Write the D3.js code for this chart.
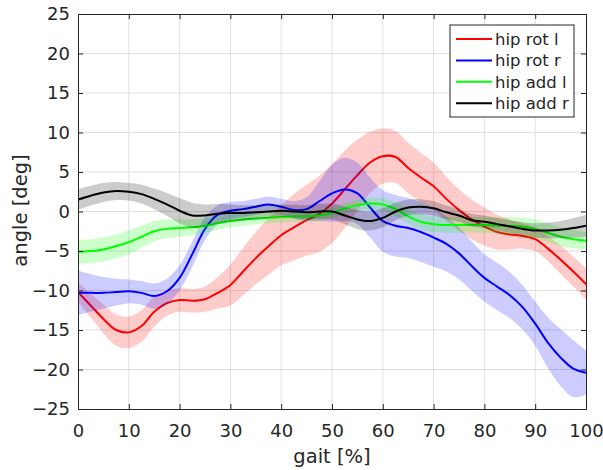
<!DOCTYPE html>
<html>
<head>
<meta charset="utf-8">
<script src="https://cdn.jsdelivr.net/npm/d3@7"></script>
<style>
  body { margin: 0; background: #fff; }
  text { font-family: "DejaVu Sans", sans-serif; fill: #262626; }
</style>
</head>
<body>
<div id="chart"></div>
<script>
// gait cycle samples [%]
var gait = [0, 2.5, 5, 7.5, 10, 12.5, 15, 17.5, 20, 22.5, 25, 27.5, 30, 32.5, 35, 37.5, 40,
  42.5, 45, 47.5, 50, 52.5, 55, 57.5, 60, 62.5, 65, 67.5, 70, 72.5, 75, 77.5, 80, 82.5, 85,
  87.5, 90, 92.5, 95, 97.5, 100];

// hip rot l (mean / sd)
var rotL = [-10.2, -11.9, -13.6, -15.0, -15.3, -14.5, -12.7, -11.6, -11.2, -11.3, -11.1, -10.3,
  -9.3, -7.6, -5.9, -4.4, -3.0, -2.0, -1.1, -0.3, 1.0, 2.8, 4.6, 6.2, 7.0, 6.9, 5.5, 4.3, 3.2,
  1.6, 0.2, -1.0, -1.9, -2.6, -2.9, -3.1, -3.5, -4.7, -6.1, -7.6, -9.2];
var rotLsd = [1.2, 1.5, 1.8, 2.0, 2.0, 2.0, 1.9, 1.6, 1.5, 1.5, 1.6, 2.0, 2.6, 3.0, 3.3, 3.6, 3.8,
  4.2, 4.5, 4.8, 5.0, 4.9, 4.5, 3.9, 3.5, 3.3, 3.2, 3.1, 3.0, 2.8, 2.6, 2.5, 2.4, 2.2, 1.9, 1.6,
  1.5, 1.6, 1.8, 1.9, 2.0];

// hip rot r
var rotR = [-10.3, -10.3, -10.3, -10.2, -10.1, -10.3, -10.7, -10.1, -8.4, -5.4, -2.2, -0.4, 0.1,
  0.3, 0.6, 0.9, 0.6, 0.2, 0.3, 1.3, 2.3, 2.8, 2.3, 0.5, -1.2, -1.8, -2.1, -2.6, -3.3, -4.1, -5.3,
  -6.9, -8.4, -9.5, -10.6, -12.1, -14.2, -16.6, -18.5, -19.9, -20.4];
var rotRsd = [2.8, 2.4, 2.0, 1.7, 1.5, 1.5, 1.6, 1.6, 1.6, 1.6, 1.4, 1.2, 1.1, 1.0, 1.0, 1.0, 1.0,
  1.1, 1.5, 2.5, 3.6, 4.0, 3.9, 3.8, 3.9, 3.9, 3.8, 3.8, 3.7, 3.5, 3.3, 3.1, 3.0, 3.0, 2.9, 2.8,
  2.8, 3.2, 3.6, 3.6, 2.8];

// hip add l
var addL = [-5.1, -5.0, -4.8, -4.4, -3.9, -3.2, -2.5, -2.2, -2.1, -2.0, -1.8, -1.5, -1.2, -1.0,
  -0.9, -0.8, -0.7, -0.6, -0.6, -0.5, -0.2, 0.4, 0.8, 1.0, 0.9, 0.3, -0.6, -1.3, -1.6, -1.7, -1.7,
  -1.7, -1.7, -1.8, -1.8, -1.9, -2.2, -2.7, -3.2, -3.5, -3.7];
var addLsd = [1.5, 1.5, 1.5, 1.5, 1.5, 1.4, 1.3, 1.2, 1.1, 1.0, 0.9, 0.8, 0.8, 0.8, 0.7, 0.7, 0.7,
  0.7, 0.7, 0.7, 0.7, 0.7, 0.7, 0.75, 0.8, 0.85, 0.9, 0.95, 1.0, 1.0, 1.0, 1.0, 1.0, 1.0, 1.1, 1.1,
  1.2, 1.2, 1.2, 1.15, 1.1];

// hip add r
var addR = [1.5, 2.0, 2.4, 2.6, 2.5, 2.2, 1.6, 0.9, 0.1, -0.5, -0.5, -0.3, -0.2, -0.2, -0.1, 0.0,
  0.1, 0.0, -0.1, 0.0, 0.0, -0.5, -1.0, -1.2, -0.8, 0.0, 0.5, 0.6, 0.4, -0.1, -0.5, -1.1, -1.3,
  -1.6, -1.9, -2.2, -2.4, -2.4, -2.3, -2.1, -1.8];
var addRsd = [1.3, 1.25, 1.2, 1.15, 1.1, 1.2, 1.3, 1.45, 1.6, 1.6, 1.4, 1.25, 1.1, 1.0, 0.9, 0.85,
  0.8, 0.85, 0.9, 0.95, 1.0, 1.1, 1.2, 1.2, 1.2, 1.1, 1.0, 0.95, 0.9, 0.85, 0.8, 0.8, 0.8, 0.8,
  0.8, 0.85, 0.9, 1.0, 1.1, 1.25, 1.4];

var names = ["hip rot l", "hip rot r", "hip add l", "hip add r"];
var colors = ["#ff0000", "#0000ff", "#00ff00", "#000000"];
var xTicks = [0, 10, 20, 30, 40, 50, 60, 70, 80, 90, 100];
var yTicks = [-25, -20, -15, -10, -5, 0, 5, 10, 15, 20, 25];

var series = [
  { name: names[0], color: colors[0], mean: rotL, sd: rotLsd },
  { name: names[1], color: colors[1], mean: rotR, sd: rotRsd },
  { name: names[2], color: colors[2], mean: addL, sd: addLsd },
  { name: names[3], color: colors[3], mean: addR, sd: addRsd }
];

var margin = { top: 14, right: 17, bottom: 61, left: 78 };
var width = 603 - margin.left - margin.right;
var height = 470 - margin.top - margin.bottom;

var svg = d3.select("#chart")
    .append("svg")
    .attr("width", 603)
    .attr("height", 470)
    .append("g")
    .attr("transform", "translate(" + margin.left + "," + margin.top + ")");

var x = d3.scaleLinear().domain([0, 100]).range([0, width]);
var y = d3.scaleLinear().domain([-25, 25]).range([height, 0]);

// grid
svg.append("g")
    .selectAll("line")
    .data(xTicks.slice(1, -1))
    .enter().append("line")
    .attr("x1", d => x(d)).attr("x2", d => x(d))
    .attr("y1", 0).attr("y2", height)
    .attr("stroke", "#dfdfdf").attr("stroke-width", 1);
svg.append("g")
    .selectAll("line")
    .data(yTicks.slice(1, -1))
    .enter().append("line")
    .attr("x1", 0).attr("x2", width)
    .attr("y1", d => y(d)).attr("y2", d => y(d))
    .attr("stroke", "#dfdfdf").attr("stroke-width", 1);

svg.append("clipPath").attr("id", "clip")
    .append("rect").attr("width", width).attr("height", height);

var plot = svg.append("g").attr("clip-path", "url(#clip)");

var area = d3.area()
    .x((d, i) => x(gait[i]))
    .curve(d3.curveCatmullRom);
var line = d3.line()
    .x((d, i) => x(gait[i]))
    .curve(d3.curveCatmullRom);

// band then mean line, per series
series.forEach(s => {
    plot.append("path")
        .attr("d", area.y0((d, i) => y(s.mean[i] - s.sd[i])).y1((d, i) => y(s.mean[i] + s.sd[i]))(s.mean))
        .attr("fill", s.color)
        .attr("fill-opacity", 0.2);
    plot.append("path")
        .attr("d", line.y(d => y(d))(s.mean))
        .attr("fill", "none")
        .attr("stroke", s.color)
        .attr("stroke-width", 2);
});

// axes, ticks inside on all four sides
var fmt = d3.format("d");
var xAxis = svg.append("g")
    .attr("transform", "translate(0," + height + ")")
    .call(d3.axisBottom(x).tickValues(xTicks).tickSizeInner(-5).tickSizeOuter(0).tickPadding(15).tickFormat(fmt));
var xTop = svg.append("g")
    .call(d3.axisTop(x).tickValues(xTicks).tickSizeInner(-5).tickSizeOuter(0).tickFormat(""));
var yAxis = svg.append("g")
    .call(d3.axisLeft(y).tickValues(yTicks).tickSizeInner(-5).tickSizeOuter(0).tickPadding(8).tickFormat(fmt));
var yRight = svg.append("g")
    .attr("transform", "translate(" + width + ",0)")
    .call(d3.axisRight(y).tickValues(yTicks).tickSizeInner(-5).tickSizeOuter(0).tickFormat(""));

[xAxis, xTop, yAxis, yRight].forEach(a => {
    a.select(".domain").attr("stroke", "#262626");
    a.selectAll(".tick line").attr("stroke", "#262626");
    a.selectAll("text").style("font-size", "18px").attr("fill", "#262626");
});

// labels
svg.append("text")
    .attr("text-anchor", "middle")
    .attr("x", width / 2)
    .attr("y", height + 54)
    .style("font-size", "19.5px")
    .text("gait [%]");

svg.append("text")
    .attr("text-anchor", "middle")
    .attr("transform", "rotate(-90)")
    .attr("x", -height / 2 + 1)
    .attr("y", -51)
    .style("font-size", "19.5px")
    .text("angle [deg]");

// legend
var lg = svg.append("g").attr("transform", "translate(" + (450 - margin.left) + "," + (25 - margin.top) + ")");
lg.append("rect")
    .attr("width", 124).attr("height", 92)
    .attr("fill", "#fff").attr("stroke", "#262626").attr("stroke-width", 1);
series.forEach((s, i) => {
    var yy = 14 + i * 21.4;
    lg.append("line")
        .attr("x1", 6).attr("x2", 42)
        .attr("y1", yy).attr("y2", yy)
        .attr("stroke", s.color).attr("stroke-width", 2);
    lg.append("text")
        .attr("x", 45).attr("y", yy)
        .attr("dy", "0.35em")
        .style("font-size", "16.5px")
        .attr("fill", "#000")
        .text(s.name);
});
</script>
</body>
</html>
